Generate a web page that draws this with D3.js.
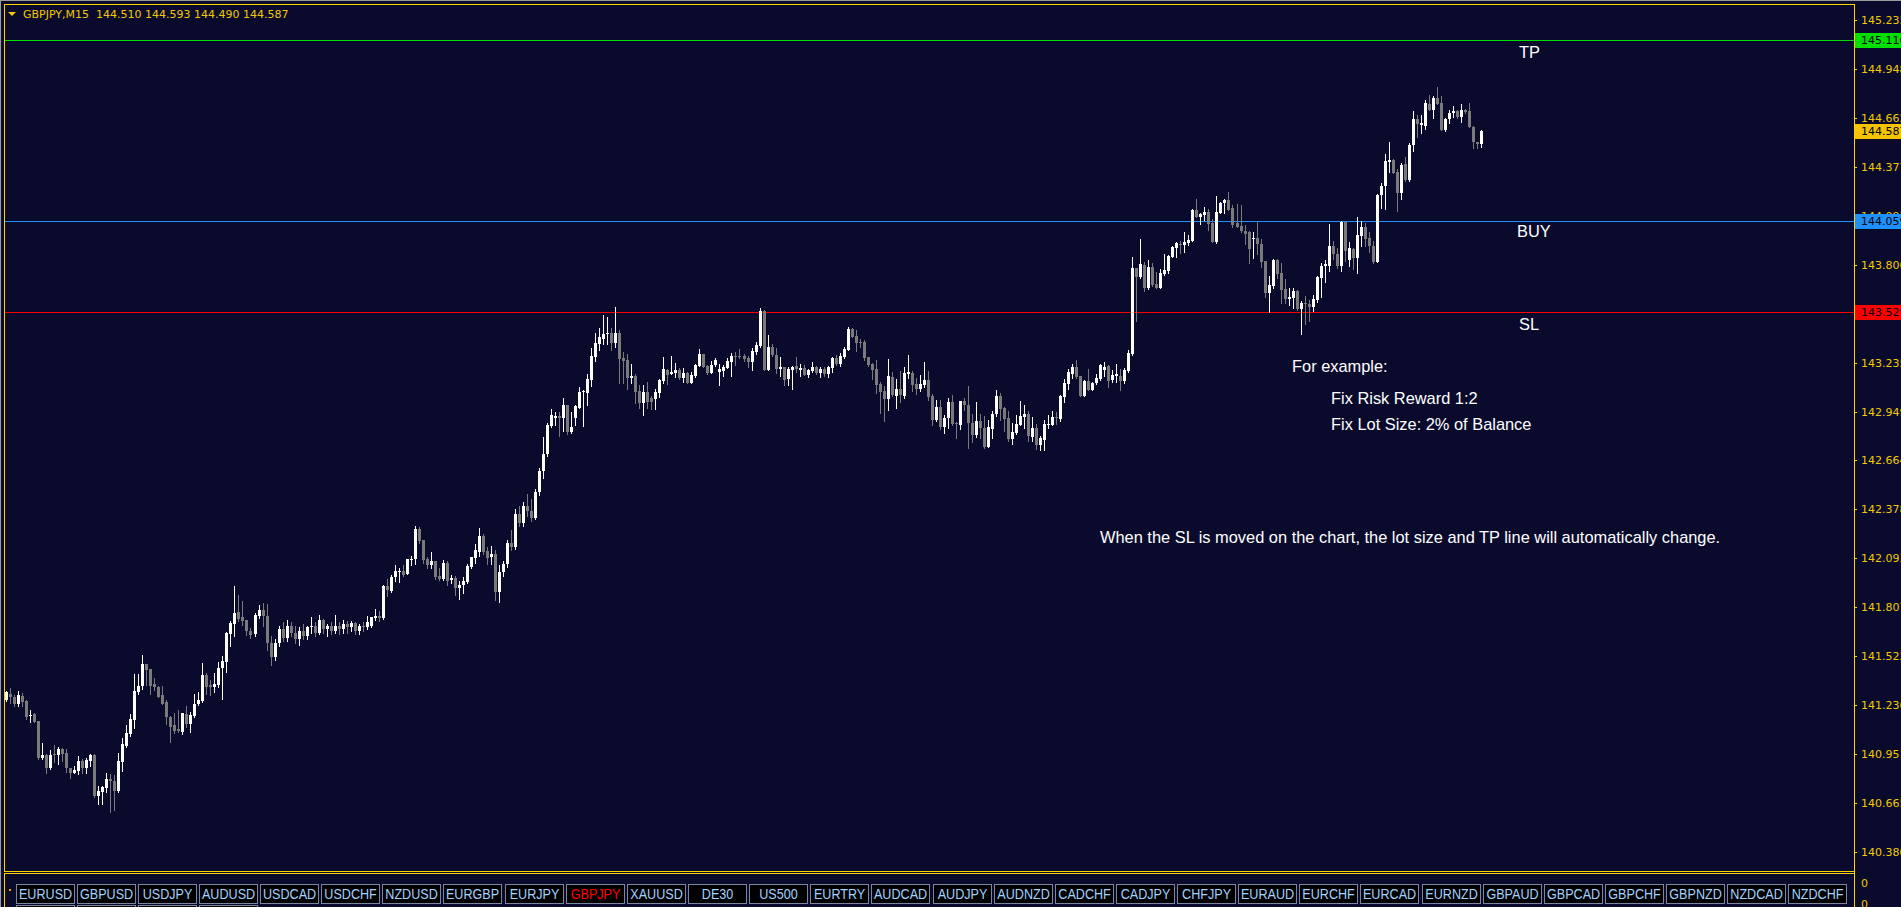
<!DOCTYPE html>
<html><head><meta charset="utf-8">
<script src="https://cdn.jsdelivr.net/npm/d3@7"></script>
<style>html,body{margin:0;padding:0;background:#0a0b2c;overflow:hidden}</style>
</head><body>
<script>
const symbolName = "GBPJPY,M15";
const openP = [
141.267,141.304,141.283,141.242,141.291,141.258,141.172,141.184,141.147,140.927,
140.948,140.868,140.950,140.944,140.983,140.960,140.870,140.843,140.855,140.911,
140.872,140.913,140.944,140.709,140.728,140.751,140.808,140.796,140.738,140.903,
141.001,141.071,141.149,141.316,141.351,141.474,141.447,141.359,141.345,141.293,
141.254,141.170,141.123,141.096,141.082,141.184,141.129,141.176,141.242,141.258,
141.415,141.353,141.345,141.357,141.452,141.491,141.649,141.709,141.777,141.748,
141.731,141.670,141.650,141.755,141.794,141.755,141.600,141.520,141.600,141.680,
141.630,141.700,141.660,141.620,141.670,141.640,141.690,141.700,141.660,141.735,
141.680,141.700,141.670,141.700,141.680,141.710,141.690,141.715,141.670,141.700,
141.690,141.700,141.745,141.757,141.745,141.930,141.901,141.982,142.012,142.017,
142.002,142.088,142.088,142.263,142.198,142.090,142.056,142.076,141.988,141.971,
142.064,141.967,141.977,141.918,141.936,141.953,142.041,142.095,142.130,142.222,
142.134,142.099,142.117,141.897,142.012,142.060,142.180,142.160,142.350,142.300,
142.400,142.370,142.330,142.480,142.600,142.700,142.864,142.913,142.923,142.913,
142.987,142.831,142.909,142.972,143.061,143.059,143.133,143.269,143.345,143.374,
143.400,143.408,143.349,143.408,143.264,143.248,143.145,143.156,143.069,143.001,
143.065,143.028,143.024,143.057,143.127,143.190,143.170,143.174,143.190,143.145,
143.176,143.117,143.156,143.215,143.285,143.215,143.176,143.221,143.180,143.186,
143.205,143.238,143.273,143.273,143.273,143.260,143.240,143.297,143.332,143.536,
143.192,143.326,143.279,143.195,143.209,143.139,143.193,143.215,143.191,143.203,
143.164,143.186,143.209,143.174,143.197,143.168,143.205,143.260,143.225,143.267,
143.310,143.431,143.390,143.355,143.355,143.267,143.227,143.197,143.110,143.069,
143.024,143.151,143.040,143.081,143.040,143.170,143.174,143.110,143.081,143.104,
143.133,143.040,142.899,142.975,142.859,142.911,143.005,142.882,142.870,143.010,
142.990,142.884,142.812,142.894,142.853,142.742,142.847,142.934,143.040,142.971,
142.911,142.790,142.823,142.872,142.917,142.936,142.800,142.853,142.753,142.784,
142.870,142.872,142.919,142.903,143.034,143.112,143.170,143.209,143.156,143.041,
143.125,143.075,143.114,143.139,143.190,143.215,143.133,143.156,143.156,143.127,
143.186,143.285,143.787,143.733,143.805,143.670,143.793,143.694,143.670,143.752,
143.770,143.851,143.904,143.929,143.922,143.933,143.945,144.126,144.085,144.097,
144.114,144.050,143.939,144.108,144.163,144.184,144.138,144.050,144.033,144.003,
143.994,143.953,143.964,143.929,143.828,143.643,143.682,143.834,143.758,143.665,
143.604,143.614,143.653,143.550,143.583,143.577,143.559,143.600,143.731,143.797,
143.799,143.916,143.871,143.799,144.052,143.834,143.896,143.842,143.974,144.027,
143.961,143.916,143.822,144.212,144.264,144.402,144.416,144.348,144.221,144.393,
144.299,144.502,144.658,144.622,144.615,144.745,144.710,144.780,144.751,144.593,
144.654,144.689,144.704,144.665,144.710,144.704,144.611,144.523,144.510];
const highP = [
141.320,141.339,141.297,141.322,141.310,141.267,141.211,141.190,141.147,141.018,
140.950,140.975,141.007,140.995,140.989,140.983,140.870,140.884,140.942,140.925,
140.927,140.952,140.954,140.767,140.765,140.839,140.837,140.827,140.960,141.044,
141.121,141.184,141.421,141.417,141.532,141.476,141.450,141.394,141.351,141.351,
141.269,141.172,141.190,141.207,141.192,141.234,141.199,141.299,141.316,141.480,
141.427,141.384,141.427,141.491,141.526,141.661,141.725,141.929,141.877,141.842,
141.733,141.684,141.775,141.819,141.831,141.825,141.640,141.620,141.700,141.720,
141.735,141.720,141.700,141.690,141.710,141.700,141.750,141.720,141.760,141.740,
141.710,141.720,141.760,141.720,141.735,141.725,141.730,141.720,141.710,141.720,
141.755,141.749,141.799,141.784,141.936,141.975,141.994,142.056,142.037,142.056,
142.091,142.105,142.284,142.274,142.199,142.103,142.128,142.078,142.035,142.082,
142.080,141.998,141.988,141.959,141.982,142.058,142.103,142.175,142.267,142.234,
142.158,142.162,142.140,142.052,142.080,142.200,142.260,142.380,142.400,142.420,
142.470,142.440,142.500,142.620,142.800,142.885,142.964,142.948,142.946,143.026,
142.990,142.946,142.985,143.092,143.073,143.168,143.318,143.406,143.435,143.513,
143.501,143.435,143.559,143.423,143.297,143.287,143.225,143.168,143.104,143.102,
143.121,143.040,143.082,143.139,143.267,143.195,143.273,143.232,143.201,143.203,
143.180,143.180,143.225,143.312,143.287,143.221,143.244,143.260,143.225,143.219,
143.264,143.291,143.297,143.312,143.283,143.273,143.318,143.353,143.554,143.540,
143.396,143.345,143.318,143.267,143.211,143.209,143.215,143.267,143.229,143.221,
143.199,143.238,143.215,143.209,143.209,143.215,143.267,143.279,143.293,143.326,
143.443,143.437,143.423,143.373,143.367,143.269,143.232,143.248,143.121,143.098,
143.256,143.180,143.139,143.186,143.209,143.279,143.186,143.143,143.162,143.238,
143.186,143.051,143.016,143.016,142.929,143.026,143.045,142.890,143.012,143.030,
143.098,142.933,143.005,142.933,142.923,142.899,142.952,143.075,143.057,142.977,
142.952,142.884,142.929,143.010,142.987,142.952,142.917,142.876,142.806,142.899,
142.927,142.952,142.948,143.047,143.139,143.195,143.225,143.250,143.158,143.133,
143.197,143.121,143.168,143.229,143.238,143.219,143.191,143.229,143.197,143.201,
143.306,143.851,143.789,143.957,143.822,143.834,143.816,143.764,143.781,143.869,
143.863,143.916,143.941,143.945,143.997,143.980,144.130,144.190,144.110,144.143,
144.132,144.073,144.208,144.173,144.190,144.231,144.151,144.161,144.155,144.038,
144.000,143.994,144.058,143.953,143.830,143.741,143.838,143.838,143.813,143.723,
143.670,143.670,143.657,143.594,143.622,143.600,143.629,143.741,143.816,143.836,
144.042,143.945,143.906,144.058,144.062,143.941,143.902,144.081,144.062,144.050,
143.998,143.945,144.217,144.284,144.451,144.521,144.420,144.364,144.397,144.432,
144.517,144.704,144.681,144.681,144.767,144.798,144.792,144.844,144.792,144.663,
144.710,144.733,144.710,144.743,144.716,144.749,144.617,144.523,144.593];
const lowP = [
141.258,141.248,141.229,141.234,141.230,141.155,141.137,141.137,140.921,140.924,
140.839,140.866,140.907,140.896,140.909,140.845,140.810,140.839,140.837,140.839,
140.839,140.884,140.699,140.658,140.658,140.728,140.615,140.627,140.732,140.855,
140.991,141.059,141.102,141.301,141.332,141.355,141.304,141.324,141.285,141.242,
141.129,141.024,141.077,141.082,141.071,141.110,141.082,141.168,141.240,141.254,
141.299,141.293,141.316,141.341,141.271,141.429,141.581,141.637,141.725,141.702,
141.647,141.628,141.640,141.745,141.700,141.560,141.470,141.500,141.580,141.610,
141.610,141.640,141.600,141.590,141.620,141.620,141.660,141.640,141.650,141.660,
141.640,141.650,141.660,141.650,141.660,141.660,141.670,141.650,141.650,141.670,
141.680,141.690,141.733,141.725,141.740,141.871,141.899,141.959,141.955,141.990,
142.000,142.056,142.060,142.185,142.066,142.037,142.037,141.975,141.969,141.967,
141.936,141.947,141.881,141.856,141.889,141.947,142.037,142.066,142.105,142.119,
142.058,142.058,141.848,141.836,141.990,142.040,142.140,142.150,142.280,142.280,
142.340,142.310,142.320,142.460,142.560,142.690,142.860,142.870,142.806,142.835,
142.816,142.822,142.870,142.970,142.864,142.987,143.098,143.244,143.310,143.341,
143.341,143.310,143.328,143.117,143.114,143.082,143.117,143.001,142.968,142.931,
142.968,142.966,142.966,143.036,143.117,143.108,143.168,143.151,143.137,143.121,
143.115,143.115,143.151,143.213,143.209,143.170,143.174,143.215,143.106,143.156,
143.203,143.156,143.221,143.260,143.244,143.209,143.191,143.287,143.326,143.190,
143.190,143.273,143.176,143.156,143.104,143.104,143.082,143.182,143.156,143.162,
143.151,143.180,143.170,143.151,143.156,143.151,143.180,143.221,143.215,143.264,
143.308,143.382,143.302,143.326,143.252,143.215,143.137,143.059,142.942,142.894,
142.958,143.040,142.972,143.007,143.026,143.143,143.069,143.053,143.069,143.092,
143.016,142.870,142.894,142.849,142.825,142.855,142.870,142.796,142.845,142.960,
142.738,142.773,142.800,142.792,142.738,142.740,142.796,142.923,142.901,142.835,
142.777,142.761,142.816,142.870,142.855,142.777,142.777,142.730,142.722,142.722,
142.855,142.870,142.878,142.895,143.006,143.080,143.143,143.147,143.039,143.039,
143.073,143.073,143.108,143.133,143.156,143.094,143.123,143.123,143.075,143.117,
143.180,143.281,143.478,143.727,143.653,143.665,143.684,143.668,143.668,143.746,
143.758,143.849,143.851,143.875,143.881,143.922,143.943,144.081,144.046,144.068,
144.009,143.937,143.935,144.106,144.110,144.124,144.023,144.025,143.998,143.927,
143.818,143.842,143.867,143.793,143.620,143.532,143.672,143.731,143.585,143.585,
143.571,143.556,143.540,143.400,143.462,143.478,143.536,143.591,143.620,143.707,
143.770,143.838,143.789,143.770,143.828,143.799,143.779,143.760,143.912,143.912,
143.877,143.818,143.820,144.136,144.130,144.344,144.338,144.120,144.186,144.291,
144.295,144.471,144.552,144.572,144.597,144.708,144.659,144.743,144.591,144.587,
144.634,144.665,144.659,144.636,144.689,144.609,144.484,144.484,144.490];
const closeP = [
141.312,141.285,141.242,141.293,141.254,141.170,141.182,141.141,140.927,140.948,
140.868,140.948,140.944,140.983,140.954,140.868,140.843,140.861,140.911,140.872,
140.917,140.944,140.705,140.738,140.757,140.808,140.796,140.738,140.913,141.008,
141.077,141.155,141.322,141.351,141.474,141.441,141.351,141.341,141.287,141.246,
141.166,141.112,141.088,141.086,141.188,141.129,141.180,141.246,141.269,141.415,
141.345,141.341,141.359,141.454,141.497,141.655,141.713,141.772,141.741,141.725,
141.667,141.647,141.764,141.794,141.755,141.600,141.520,141.600,141.680,141.630,
141.700,141.660,141.620,141.670,141.640,141.690,141.700,141.660,141.735,141.680,
141.700,141.670,141.700,141.680,141.710,141.690,141.715,141.670,141.700,141.690,
141.720,141.749,141.757,141.745,141.930,141.906,141.982,142.017,142.017,141.998,
142.088,142.090,142.263,142.193,142.082,142.056,142.076,141.982,141.971,142.064,
141.963,141.979,141.920,141.936,141.959,142.047,142.099,142.140,142.222,142.130,
142.093,142.121,141.897,142.012,142.060,142.180,142.160,142.350,142.300,142.400,
142.370,142.330,142.480,142.600,142.700,142.870,142.929,142.923,142.913,142.987,
142.831,142.859,142.981,143.065,143.067,143.139,143.273,143.349,143.384,143.402,
143.406,143.349,143.408,143.258,143.244,143.145,143.156,143.065,143.001,143.065,
143.007,143.007,143.065,143.133,143.195,143.164,143.182,143.190,143.145,143.176,
143.117,143.162,143.221,143.285,143.211,143.176,143.221,143.248,143.195,143.211,
143.244,143.273,143.267,143.267,143.258,143.240,143.302,143.338,143.536,143.192,
143.326,143.279,143.195,143.209,143.133,143.195,143.209,143.195,143.203,143.164,
143.191,143.209,143.174,143.197,143.168,143.209,143.264,143.225,143.273,143.316,
143.431,143.384,143.349,143.349,143.262,143.221,143.192,143.104,143.065,143.024,
143.156,143.045,143.081,143.045,143.174,143.180,143.104,143.081,143.110,143.133,
143.034,142.899,142.975,142.859,142.911,143.005,142.878,142.874,143.010,142.990,
142.884,142.812,142.894,142.855,142.742,142.859,142.934,143.040,142.966,142.907,
142.790,142.831,142.876,142.923,142.936,142.806,142.855,142.753,142.796,142.878,
142.878,142.919,142.913,143.041,143.116,143.182,143.209,143.151,143.041,143.125,
143.075,143.116,143.145,143.223,143.209,143.127,143.162,143.170,143.127,143.191,
143.291,143.787,143.735,143.811,143.670,143.793,143.686,143.670,143.758,143.775,
143.857,143.910,143.933,143.925,143.939,143.951,144.126,144.085,144.103,144.114,
144.046,143.939,144.114,144.167,144.184,144.126,144.038,144.027,144.000,143.986,
143.900,143.964,143.926,143.824,143.643,143.688,143.834,143.754,143.661,143.608,
143.620,143.653,143.550,143.581,143.575,143.559,143.606,143.735,143.799,143.807,
143.916,143.867,143.799,144.052,143.887,143.902,143.842,143.980,144.027,143.955,
143.912,143.822,144.214,144.264,144.412,144.418,144.342,144.221,144.389,144.301,
144.506,144.658,144.626,144.634,144.751,144.710,144.780,144.745,144.593,144.658,
144.693,144.704,144.665,144.710,144.695,144.611,144.519,144.510,144.587];

const priceTicks = [145.233,144.948,144.662,144.377,144.091,143.806,143.520,143.235,142.949,
  142.664,142.378,142.093,141.807,141.522,141.236,140.951,140.665,140.380];
const levelNames = ["TP","BUY","SL"];
const levelPrices = [145.116,144.059,143.529];
const noteLines = ["For example:","Fix Risk Reward 1:2","Fix Lot Size: 2% of Balance",
  "When the SL is moved on the chart, the lot size and TP line will automatically change."];
const tabNames = ["EURUSD","GBPUSD","USDJPY","AUDUSD","USDCAD","USDCHF","NZDUSD","EURGBP","EURJPY","GBPJPY",
  "XAUUSD","DE30","US500","EURTRY","AUDCAD","AUDJPY","AUDNZD","CADCHF","CADJPY","CHFJPY",
  "EURAUD","EURCHF","EURCAD","EURNZD","GBPAUD","GBPCAD","GBPCHF","GBPNZD","NZDCAD","NZDCHF"];
const activeTab = "GBPJPY";
const subTicks = ["0","0"];

// ---------- layout / style ----------
const W = 1901, H = 907;
const BG = "#0a0b2c", GOLD = "#f2c800", FRAME = "#ffd200";
const UP = "#ffffff", DOWN = "#7a7a7a";
const levelColor = {TP:"#00e000", BUY:"#1e90ff", SL:"#ff0000"};
const frame = {l:4, t:4, r:1854, b:871};
const n = Math.min(openP.length, highP.length, lowP.length, closeP.length);

const svg = d3.select("body").append("svg").attr("width", W).attr("height", H)
  .style("display","block").style("font-family","'DejaVu Sans',sans-serif");
svg.append("rect").attr("width", W).attr("height", H).attr("fill", BG);
svg.append("line").attr("x1",0).attr("x2",W).attr("y1",0.5).attr("y2",0.5).attr("stroke","#9a9a9a").attr("stroke-width",1);
svg.append("line").attr("x1",0.5).attr("x2",0.5).attr("y1",0).attr("y2",H).attr("stroke","#9a9a9a").attr("stroke-width",1);

const x = d3.scaleLinear().domain([0, n-1]).range([6, 1481]);
const y = d3.scaleLinear().domain([140.275, 145.3205]).range([870, 5]);

svg.append("defs").append("clipPath").attr("id","plot")
  .append("rect").attr("x", frame.l+1).attr("y", frame.t+1)
  .attr("width", frame.r-frame.l-1).attr("height", frame.b-frame.t-1);

const plot = svg.append("g").attr("clip-path","url(#plot)").attr("shape-rendering","crispEdges");

plot.selectAll("line.level").data(levelNames).join("line").attr("class","level")
  .attr("x1", frame.l+1).attr("x2", frame.r)
  .attr("y1", (d,i)=>Math.round(y(levelPrices[i]))+0.5).attr("y2", (d,i)=>Math.round(y(levelPrices[i]))+0.5)
  .attr("stroke", d=>levelColor[d]).attr("stroke-width",1);

const idx = d3.range(n);
const isUp = i => closeP[i] >= openP[i];
plot.selectAll("line.wick").data(idx).join("line").attr("class","wick")
  .attr("x1", i=>Math.round(x(i))+0.5).attr("x2", i=>Math.round(x(i))+0.5)
  .attr("y1", i=>Math.round(y(highP[i]))).attr("y2", i=>Math.round(y(lowP[i]))+1)
  .attr("stroke", i=>isUp(i)?UP:DOWN).attr("stroke-width",1);
plot.selectAll("rect.body").data(idx).join("rect").attr("class","body")
  .attr("x", i=>Math.round(x(i))-1).attr("width",3)
  .attr("y", i=>Math.round(y(Math.max(openP[i],closeP[i]))))
  .attr("height", i=>Math.max(1, Math.round(y(Math.min(openP[i],closeP[i]))) - Math.round(y(Math.max(openP[i],closeP[i])))))
  .attr("fill", i=>isUp(i)?UP:DOWN);

const ann = svg.append("g").style("font-family","'Liberation Sans',Arial,sans-serif").style("font-size","16.4px").attr("fill","#ffffff");
ann.selectAll("text.lvl").data(levelNames).join("text").attr("class","lvl")
  .attr("x", d=> d==="BUY" ? 1517 : 1519)
  .attr("y", (d,i)=> y(levelPrices[i]) + (d==="TP" ? 18 : d==="BUY" ? 16 : 18)).text(d=>d);
const notePos = [[1292,372],[1331,404],[1331,430],[1100,543]];
ann.selectAll("text.note").data(noteLines).join("text").attr("class","note")
  .attr("x",(d,i)=>notePos[i][0]).attr("y",(d,i)=>notePos[i][1]).text(d=>d);

const fr = svg.append("g").attr("stroke", FRAME).attr("stroke-width",1).attr("shape-rendering","crispEdges");
fr.append("line").attr("x1",frame.l).attr("x2",frame.r+1).attr("y1",frame.t+0.5).attr("y2",frame.t+0.5);
fr.append("line").attr("x1",frame.l+0.5).attr("x2",frame.l+0.5).attr("y1",frame.t).attr("y2",frame.b+1);
fr.append("line").attr("x1",frame.r+0.5).attr("x2",frame.r+0.5).attr("y1",frame.t).attr("y2",H);
fr.append("line").attr("x1",frame.l).attr("x2",frame.r+1).attr("y1",frame.b+0.5).attr("y2",frame.b+0.5);
fr.append("line").attr("x1",frame.l).attr("x2",frame.r+1).attr("y1",frame.b+2.5).attr("y2",frame.b+2.5);
fr.append("line").attr("x1",frame.l+0.5).attr("x2",frame.l+0.5).attr("y1",frame.b+2).attr("y2",H);

const axisG = svg.append("g").attr("transform",`translate(${frame.r},0)`)
  .call(d3.axisRight(y).tickValues(priceTicks).tickFormat(d3.format(".3f")).tickSize(3).tickPadding(4));
axisG.select(".domain").remove();
axisG.selectAll(".tick line").attr("stroke", FRAME).attr("shape-rendering","crispEdges");
axisG.selectAll(".tick text").attr("fill", GOLD).style("font-family","'DejaVu Sans',sans-serif").style("font-size","11px");

const tagData = [
  {p: levelPrices[0], c: levelColor.TP},
  {p: closeP[n-1], c: "#f5c400"},
  {p: levelPrices[1], c: levelColor.BUY},
  {p: levelPrices[2], c: levelColor.SL}];
const tags = svg.append("g");
tags.selectAll("rect").data(tagData).join("rect")
  .attr("x", frame.r+1).attr("width", W-frame.r).attr("height",15)
  .attr("y", d=>Math.round(y(d.p))-7).attr("fill", d=>d.c);
tags.selectAll("text").data(tagData).join("text")
  .attr("x", frame.r+7).attr("y", d=>Math.round(y(d.p))+0.5).attr("dy","0.36em")
  .style("font-size","11px").attr("fill","#000").text(d=>d.p.toFixed(3));

const hdr = svg.append("g");
hdr.append("path").attr("d","M8,12 L16,12 L12,16 Z").attr("fill", GOLD);
hdr.append("text").attr("x",23).attr("y",18).style("font-size","11px").style("white-space","pre")
  .attr("fill", GOLD)
  .text(`${symbolName}  ${openP[n-1].toFixed(3)} ${highP[n-1].toFixed(3)} ${lowP[n-1].toFixed(3)} ${closeP[n-1].toFixed(3)}`);

svg.selectAll("text.sub").data(subTicks).join("text").attr("class","sub")
  .attr("x", frame.r+7).attr("y",(d,i)=> frame.b + 12 + i*20.6).attr("dy","0.36em")
  .style("font-size","11px").attr("fill",GOLD).text(d=>d);

const band = d3.scaleBand().domain(tabNames).range([15.5, 1846.5]).paddingInner(0.05).paddingOuter(0);
const tabs = svg.append("g");
svg.append("rect").attr("x",9).attr("y",889).attr("width",2).attr("height",2).attr("fill","#ff9900");
const tg = tabs.selectAll("g").data(tabNames).join("g")
  .attr("transform", d=>`translate(${Math.round(band(d))},884)`);
tg.append("rect").attr("x",0.5).attr("y",0.5).attr("width",Math.round(band.bandwidth())).attr("height",19)
  .attr("fill","#000000").attr("stroke","#7b869e").attr("stroke-width",1);
tg.append("text").attr("transform",`translate(${band.bandwidth()/2+0.5},15) scale(0.84,1)`)
  .attr("text-anchor","middle").style("font-family","'Liberation Sans',Arial,sans-serif").style("font-size","15px")
  .attr("fill", d=> d===activeTab ? "#ff0000" : "#a2d2ff").text(d=>d);
tabs.selectAll("rect.row2").data(tabNames.slice(0,4)).join("rect").attr("class","row2")
  .attr("x", d=>Math.round(band(d))+0.5).attr("y",905.5).attr("width",Math.round(band.bandwidth())).attr("height",19)
  .attr("fill","#000000").attr("stroke","#7b869e");
</script>
</body></html>
